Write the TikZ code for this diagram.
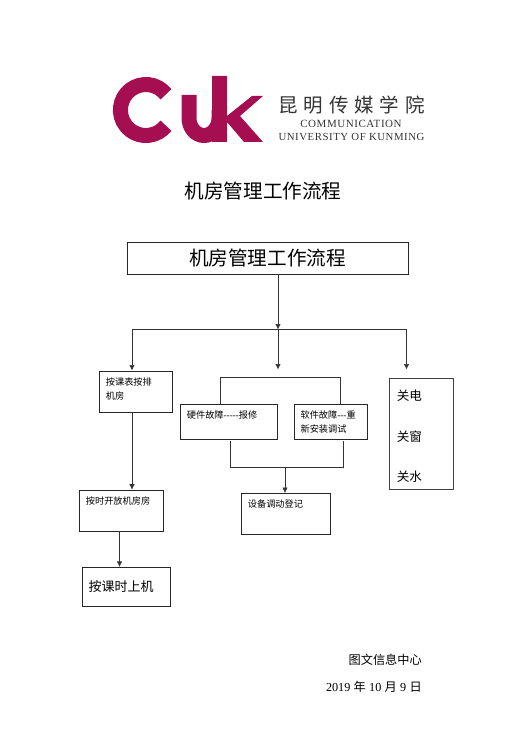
\documentclass[tikz,border=0pt]{standalone}
\usepackage{fontspec}
\setmainfont{Noto Sans CJK SC}
\newfontfamily\latin{Liberation Serif}
\newfontfamily\logolatin[LetterSpace=5]{Liberation Serif}
\newfontfamily\logocjk[LetterSpace=30]{Noto Sans CJK SC}
\usetikzlibrary{arrows.meta,positioning}
\definecolor{LogoRed}{HTML}{A50F52}
\newcommand{\toptext}[3]{\begin{minipage}[c][#2pt][t]{#1pt}\raggedright\fontsize{9.2}{14}\selectfont\vspace*{3.5pt}#3\end{minipage}}
\newcommand{\dashes}[1]{{\latin #1}}
\newcommand{\dategap}{\hspace{3.3pt}}

\begin{document}
\begin{tikzpicture}[
  x=1pt,y=1pt,>={Latex[length=5.5pt,width=5.5pt]},
  stepbox/.style={draw=black!85,line width=.7pt,rectangle,inner xsep=6.5pt,inner ysep=3pt},
  plain/.style={inner sep=0pt},
  line/.style={draw=black!80,line width=.7pt},
  logostroke/.style={draw=LogoRed,line width=15pt}]
  \useasboundingbox (0,0) rectangle (525,-746);
  % logo
  \draw[logostroke] (166,-94.3) arc[start angle=38,end angle=322,radius=25.5];
  \draw[logostroke] (189,-95) -- (189,-118) arc[start angle=180,end angle=360,x radius=15,y radius=17.5] -- (219,-110);
  \fill[LogoRed] (212,-76) -- (227,-76) -- (227,-116) -- (252,-96) -- (263,-96) -- (240,-116) -- (263,-142)
    -- (244,-142) -- (227,-122) -- (227,-142) -- (212,-142) -- cycle;
  \node[plain,text=black!80] (logocn) at (351.5,-105) {\logocjk\fontsize{19.5}{20}\selectfont 昆明传媒学院};
  \node[plain,text=black!80] (logoen1) at (351,-124) {\logolatin\fontsize{11}{12}\selectfont COMMUNICATION};
  \node[plain,text=black!80] (logoen2) at (351.5,-137) {\logolatin\fontsize{10.8}{12}\selectfont UNIVERSITY OF KUNMING};
  % title
  \node[plain] (title) at (263,-191) {\fontsize{19.6}{22}\selectfont 机房管理工作流程};
  \node[stepbox,minimum width=281pt,minimum height=32pt] (head) at (267.5,-258) {\fontsize{19.6}{22}\selectfont 机房管理工作流程};
  \coordinate (bus) at (278,-329.5);
  % left column
  \node[stepbox,anchor=north west] (timetable) at (99,-370.5) {\toptext{60}{35}{按课表按排\\机房}};
  \node[stepbox,below=77.5pt of timetable,xshift=-14.5pt] (open) {\toptext{71}{35}{按时开放机房房}};
  \node[stepbox,below=35.5pt of open,xshift=4.5pt,minimum width=88pt,minimum height=39pt] (class) {\fontsize{13}{15}\selectfont 按课时上机\hspace{9.5pt}\mbox{}};
  % middle column
  \node[stepbox,anchor=north west] (hardware) at (180,-404) {\toptext{84}{29}{硬件故障\dashes{-----}报修}};
  \node[stepbox,right=16pt of hardware] (software) {\toptext{60}{29}{软件故障\dashes{---}重\\新安装调试}};
  \node[stepbox,anchor=north west] (record) at (241,-493) {\toptext{76}{35}{设备调动登记}};
  % right column
  \node[draw=black!75,line width=.7pt,anchor=north west,minimum width=64pt,minimum height=111pt,inner sep=0pt] (power) at (389,-378)
    {\begin{minipage}{49pt}\vspace*{5pt}\fontsize{12.6}{40.5}\selectfont 关电\\关窗\\关水\end{minipage}};
  % footer
  \node[plain,anchor=east] (dept) at (422,-660) {\fontsize{12.2}{14}\selectfont 图文信息中心};
  \node[plain,anchor=east] (date) at (422,-687) {\fontsize{12.2}{14}\selectfont {\latin 2019}\dategap 年\dategap{\latin 10}\dategap 月\dategap{\latin 9}\dategap 日};
  % connectors
  \draw[->,line] (head.south -| bus) -- (bus);
  \coordinate (busleft) at (132,-329.5);
  \coordinate (busright) at (406.5,-329.5);
  \coordinate (busdown) at (278,-369.5);
  \draw[line] (busleft) -- (busright);
  \draw[->,line] (busleft) -- (busleft |- timetable.north);
  \draw[->,line] (bus) -- (busdown);
  \draw[->,line] (busright) -- (406.5,-369.5);
  \draw[->,line] (timetable.south -| busleft) -- (busleft |- open.north);
  \draw[->,line] (open.south -| 119.5,0) -- (class.north -| 119.5,0);
  \draw[line] (220.5,-404) |- (340,-377) -- (340,-404);
  \draw[line] (230,-440.5) |- (343,-467.5) -- (343,-440.5);
  \draw[->,line] (285,-467.5) -- (record.north -| 285,0);
\end{tikzpicture}
\end{document}
